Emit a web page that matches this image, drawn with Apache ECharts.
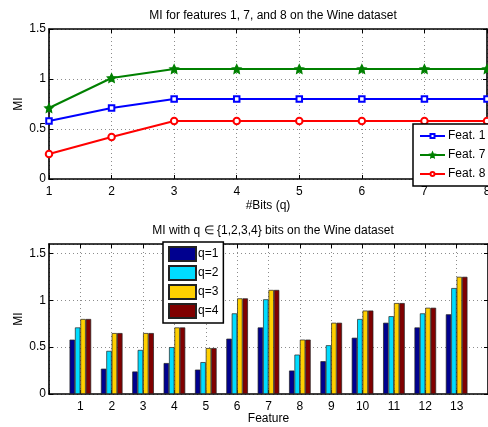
<!DOCTYPE html>
<html><head><meta charset="utf-8">
<script src="https://cdn.jsdelivr.net/npm/echarts@6/dist/echarts.min.js"></script>
<style>html,body{margin:0;padding:0;background:#fff}#c{width:488px;height:427px}</style>
</head><body><div id="c"></div>
<script>
// ---- data ----
const bits = [1, 2, 3, 4, 5, 6, 7, 8];
const feat1 = [0.58, 0.71, 0.80, 0.80, 0.80, 0.80, 0.80, 0.80];
const feat7 = [0.71, 1.01, 1.10, 1.10, 1.10, 1.10, 1.10, 1.10];
const feat8 = [0.25, 0.42, 0.58, 0.58, 0.58, 0.58, 0.58, 0.58];

const features = [1, 2, 3, 4, 5, 6, 7, 8, 9, 10, 11, 12, 13];
const q1 = [0.58, 0.27, 0.24, 0.33, 0.26, 0.59, 0.71, 0.25, 0.35, 0.60, 0.76, 0.71, 0.85];
const q2 = [0.71, 0.46, 0.47, 0.50, 0.34, 0.86, 1.01, 0.42, 0.52, 0.80, 0.83, 0.86, 1.13];
const q3 = [0.80, 0.65, 0.65, 0.71, 0.49, 1.02, 1.11, 0.58, 0.76, 0.89, 0.97, 0.92, 1.25];
const q4 = [0.80, 0.65, 0.65, 0.71, 0.49, 1.02, 1.11, 0.58, 0.76, 0.89, 0.97, 0.92, 1.25];

const lineNames = ['Feat. 1', 'Feat. 7', 'Feat. 8'];
const barNames = ['q=1', 'q=2', 'q=3', 'q=4'];
const yTicks = [0, 0.5, 1, 1.5];

// ---- styling ----
const FONT = 'Liberation Sans';
const txt = {fontFamily: FONT, fontSize: 12, color: '#000'};
const gridLine = {show: true, lineStyle: {color: '#8c8c8c', type: [1, 3], width: 1}};
const axLine = {show: true, onZero: false, lineStyle: {color: '#000', width: 1.6}};
const tick = {show: true, inside: true, length: 4, lineStyle: {color: '#000', width: 1}};
const star = 'path://M0,-10 L2.9,-4 9.5,-3.1 4.7,1.5 5.9,8.1 0,5 -5.9,8.1 -4.7,1.5 -9.5,-3.1 -2.9,-4 Z';
const yFmt = v => (yTicks.indexOf(+v.toFixed(2)) >= 0 ? String(+v.toFixed(2)) : '');

const lineColors = ['#0000ff', '#008000', '#ff0000'];
const lineData = [feat1, feat7, feat8];
const lineSymbols = ['emptyRect', star, 'emptyCircle'];
const lineSymSize = [5.5, 8, 6.5];
const barColors = ['#00008f', '#00dcff', '#ffd000', '#800000'];
const barData = [q1, q2, q3, q4];

const series = [];
lineNames.forEach((n, i) => {
  series.push({
    name: n, type: 'line', xAxisIndex: 0, yAxisIndex: 0,
    data: bits.map((b, k) => [b, lineData[i][k]]),
    symbol: lineSymbols[i], symbolSize: lineSymSize[i], showAllSymbol: true,
    color: lineColors[i],
    lineStyle: {color: lineColors[i], width: 2},
    itemStyle: {color: lineColors[i], borderColor: lineColors[i], borderWidth: 1.5},
    animation: false, z: 3
  });
});
barNames.forEach((n, i) => {
  series.push({
    name: n, type: 'bar', xAxisIndex: 2, yAxisIndex: 2,
    data: features.map((f, k) => [f, barData[i][k]]),
    barWidth: 5.4, barGap: '0%',
    itemStyle: {color: barColors[i], borderColor: '#222', borderWidth: 0.7},
    animation: false, z: 3
  });
});

const chart = echarts.init(document.getElementById('c'), null, {renderer: 'canvas'});
chart.setOption({
  backgroundColor: '#fff',
  animation: false,
  title: [
    {text: 'MI for features 1, 7, and 8 on the Wine dataset', left: 268, top: 5, textAlign: 'center',
     textStyle: {fontFamily: FONT, fontSize: 12, fontWeight: 'normal', color: '#000'}},
    {text: 'MI with q \u2208 {1,2,3,4} bits on the Wine dataset', left: 268, top: 220, textAlign: 'center',
     textStyle: {fontFamily: FONT, fontSize: 12, fontWeight: 'normal', color: '#000'}}
  ],
  grid: [
    {left: 49, top: 29, width: 438, height: 150, outerBoundsMode: 'none', containLabel: false},
    {left: 49, top: 244, width: 439, height: 150, outerBoundsMode: 'none', containLabel: false}
  ],
  xAxis: [
    {type: 'value', gridIndex: 0, min: 1, max: 8, interval: 1, position: 'bottom',
     name: '#Bits (q)', nameLocation: 'middle', nameGap: 21, nameMoveOverlap: false, nameTextStyle: txt,
     axisLine: axLine, axisTick: tick, splitLine: gridLine, axisLabel: Object.assign({margin: 7}, txt)},
    {type: 'value', gridIndex: 0, min: 1, max: 8, interval: 1, position: 'top',
     axisLine: axLine, axisTick: tick, splitLine: {show: false}, axisLabel: {show: false}},
    {type: 'value', gridIndex: 1, min: 0, max: 14, interval: 1, position: 'bottom',
     name: 'Feature', nameLocation: 'middle', nameGap: 19, nameMoveOverlap: false, nameTextStyle: txt,
     axisLine: axLine, axisTick: tick, splitLine: gridLine,
     axisLabel: Object.assign({margin: 7, formatter: v => (v >= 1 && v <= 13 ? String(v) : '')}, txt)},
    {type: 'value', gridIndex: 1, min: 0, max: 14, interval: 1, position: 'top',
     axisLine: axLine, axisTick: tick, splitLine: {show: false}, axisLabel: {show: false}}
  ],
  yAxis: [
    {type: 'value', gridIndex: 0, min: 0, max: 1.5, interval: 0.5, position: 'left',
     name: 'MI', nameLocation: 'middle', nameGap: 24, nameMoveOverlap: false, nameTextStyle: txt,
     axisLine: axLine, axisTick: tick, splitLine: gridLine, axisLabel: Object.assign({margin: 3, formatter: yFmt}, txt)},
    {type: 'value', gridIndex: 0, min: 0, max: 1.5, interval: 0.5, position: 'right',
     axisLine: axLine, axisTick: tick, splitLine: {show: false}, axisLabel: {show: false}},
    {type: 'value', gridIndex: 1, min: 0, max: 1.6, interval: 0.5, position: 'left',
     name: 'MI', nameLocation: 'middle', nameGap: 24, nameMoveOverlap: false, nameTextStyle: txt,
     axisLine: axLine, axisTick: tick, splitLine: gridLine,
     axisLabel: Object.assign({margin: 3, formatter: yFmt, showMaxLabel: false}, txt)},
    {type: 'value', gridIndex: 1, min: 0, max: 1.6, interval: 0.5, position: 'right',
     axisLine: axLine, axisTick: tick, splitLine: {show: false}, axisLabel: {show: false}}
  ],
  legend: [
    {data: lineNames, orient: 'vertical', left: 413, top: 124, itemWidth: 25, itemHeight: 5, itemGap: 7,
     padding: [6, 14, 6, 6], backgroundColor: '#fff', borderColor: '#000', borderWidth: 1.5,
     textStyle: Object.assign({padding: [0, 0, 0, -2]}, txt), selectedMode: false, z: 10},
    {data: barNames, orient: 'vertical', left: 163, top: 242, itemWidth: 27, itemHeight: 14, itemGap: 3,
     padding: [4, 5, 4, 5], backgroundColor: '#fff', borderColor: '#000', borderWidth: 1.5,
     textStyle: Object.assign({padding: [0, 0, 0, -3]}, txt), selectedMode: false, icon: 'rect', z: 10}
  ],
  series: series
});
</script></body></html>
